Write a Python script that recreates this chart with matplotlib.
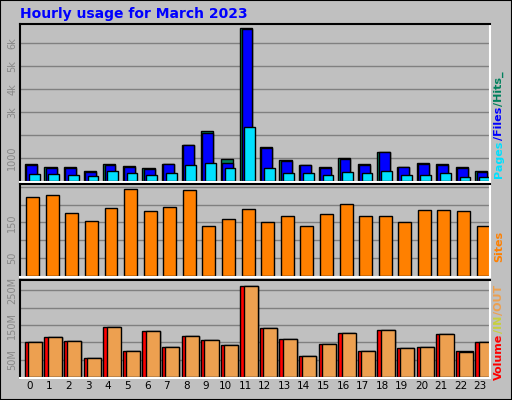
import numpy as np
import matplotlib
matplotlib.use("Agg")
import matplotlib.pyplot as plt
from matplotlib.patches import Rectangle

hours = np.arange(24)
hits = [740, 610, 610, 435, 740, 650, 565, 740, 1570, 2170, 960, 6650,
        1480, 910, 700, 610, 1000, 740, 1260, 610, 780, 740, 610, 435]
files = [700, 590, 560, 390, 700, 630, 520, 740, 1570, 2100, 770, 6600,
         1420, 880, 680, 590, 980, 720, 1250, 600, 760, 720, 590, 400]
pages = [300, 300, 280, 220, 430, 350, 260, 350, 700, 780, 560, 2350,
         560, 350, 330, 280, 380, 350, 430, 280, 280, 350, 190, 190]
sites = [222, 228, 178, 153, 192, 244, 183, 194, 242, 139, 161, 189,
         150, 169, 139, 175, 203, 169, 167, 150, 186, 186, 181, 139]
volume = [101, 116, 104, 55, 145, 75, 133, 87, 119, 107, 92, 263,
          142, 110, 61, 95, 127, 75, 136, 84, 87, 124, 75, 101]
kb_out = [101, 116, 104, 54, 145, 75, 133, 87, 119, 107, 92, 262,
          142, 110, 61, 95, 127, 75, 136, 84, 87, 124, 73, 101]

bg = '#C0C0C0'
fig = plt.figure(figsize=(5.12, 4.0), dpi=100, facecolor=bg)
fig.patches.append(Rectangle((0, 0), 1, 1, transform=fig.transFigure,
                             fill=False, edgecolor='black', linewidth=1.5))

def make_ax(rect, ylim, ticks, labels):
    ax = fig.add_axes(rect, facecolor=bg)
    ax.set_xlim(-0.5, 23.5)
    ax.set_ylim(*ylim)
    for g in np.arange(ticks[0], ylim[1], ticks[1]):
        ax.axhline(g, color='#808080', linewidth=1, zorder=0)
    ax.set_yticks(list(labels.keys()))
    ax.set_yticklabels(list(labels.values()), rotation=90, va='center',
                       color='#888888', fontsize=7)
    ax.tick_params(length=0, pad=2)
    ax.set_xticks([])
    for s in ax.spines.values():
        s.set_color('white')
        s.set_linewidth(1.5)
    ax.spines['left'].set_color('black')
    ax.spines['top'].set_color('black')
    return ax

ax1 = make_ax([0.039, 0.545, 0.918, 0.395], (-40, 6830), (1000, 1000),
              {1000: '1000', 3000: '3k', 4000: '4k', 5000: '5k', 6000: '6k'})
ax1.bar(hours - 0.25, hits, width=0.62, align='edge', color='#00805C', edgecolor='black', lw=1)
ax1.bar(hours - 0.18, files, width=0.55, align='edge', color='#0000FF', edgecolor='black', lw=1)
ax1.bar(hours - 0.05, pages, width=0.55, align='edge', color='#00E0FF', edgecolor='black', lw=1)

ax2 = make_ax([0.039, 0.3075, 0.918, 0.2325], (-3, 258), (50, 50),
              {50: '50', 150: '150'})
ax2.bar(hours - 0.18, sites, width=0.66, align='edge', color='#FF8000', edgecolor='black', lw=1)

ax3 = make_ax([0.039, 0.055, 0.918, 0.245], (-3, 280), (50, 50),
              {50: '50M', 150: '150M', 250: '250M'})
ax3.bar(hours - 0.25, volume, width=0.88, align='edge', color='#FF0000', edgecolor='black', lw=1)
ax3.bar(hours - 0.08, kb_out, width=0.72, align='edge', color='#EDA050', edgecolor='black', lw=1)
ax3.set_xticks(hours)
ax3.set_xticklabels([str(h) for h in hours], fontsize=7.5)

fig.text(0.04, 0.965, 'Hourly usage for March 2023', color='#0000FF',
         fontsize=10, fontweight='bold', va='center')

# side legends: stack coloured pieces bottom-up
renderer = fig.canvas.get_renderer()

def side(y_px, parts):
    y = 1 - y_px / 400
    for txt, col in parts:
        t = fig.text(0.975, y, txt, color=col, rotation=90, ha='center',
                     va='bottom', fontsize=8, fontweight='bold')
        bb = t.get_window_extent(renderer)
        y += bb.height / fig.bbox.height + 0.002

side(178, [('Pages', '#00E0FF'), ('/Files', '#0000FF'), ('/Hits_', '#00805C')])
side(262, [('Sites', '#FF8000')])
side(380, [('Volume', '#FF0000'), ('/IN', '#C8D040'), ('/OUT', '#EDA050')])

fig.savefig('out.png', dpi=100, facecolor=bg)
